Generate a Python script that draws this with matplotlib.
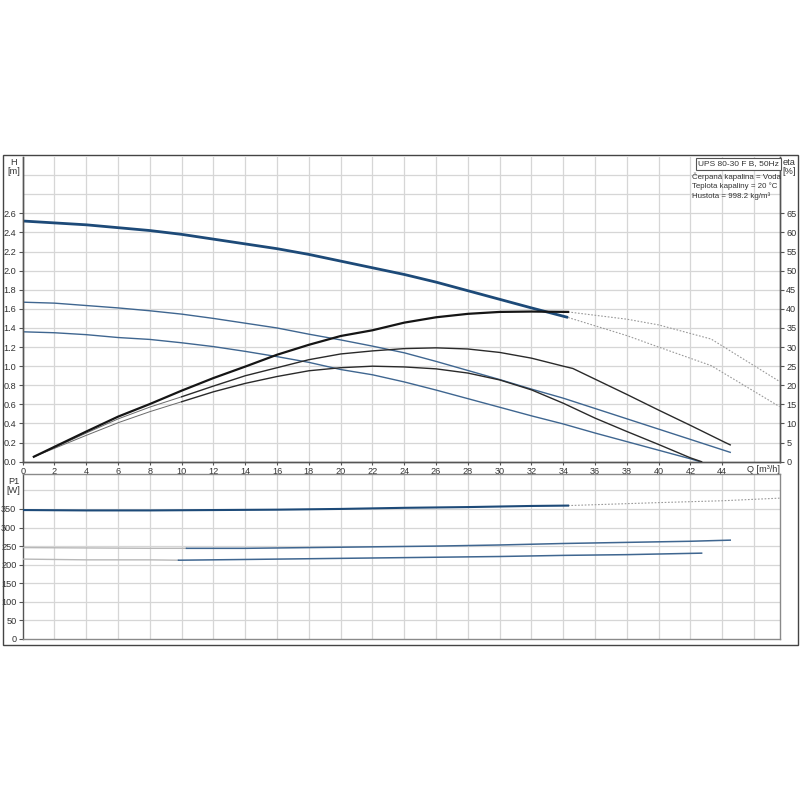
import matplotlib
matplotlib.use("Agg")
import matplotlib.pyplot as plt
from matplotlib.patches import Rectangle

plt.rcParams['font.family'] = ['Liberation Sans', 'DejaVu Sans']

# ---------------- data ----------------
Q_h1 = [0, 2, 4, 6, 8, 10, 12, 14, 16, 18, 20, 22, 24, 26, 28, 30, 32, 34.3]
H1 = [2.52, 2.50, 2.48, 2.45, 2.42, 2.38, 2.33, 2.28, 2.23, 2.17, 2.10, 2.03, 1.96, 1.88, 1.79, 1.70, 1.61, 1.51]
Q_h1_ext = [34.3, 38, 40, 43.3, 47.6]
H1_ext = [1.51, 1.32, 1.20, 1.006, 0.577]

Q_h2 = [0, 2, 4, 6, 8, 10, 12, 14, 16, 18, 20, 22, 24, 26, 28, 30, 32, 34, 36, 38, 40, 42, 44, 44.5]
H2 = [1.67, 1.66, 1.635, 1.61, 1.58, 1.545, 1.50, 1.45, 1.40, 1.335, 1.275, 1.21, 1.14, 1.05, 0.955,
      0.86, 0.76, 0.665, 0.557, 0.449, 0.341, 0.233, 0.125, 0.098]

Q_h3 = [0, 2, 4, 6, 8, 10, 12, 14, 16, 18, 20, 22, 24, 26, 28, 30, 32, 34, 36, 38, 40, 42, 42.6]
H3 = [1.36, 1.35, 1.33, 1.30, 1.28, 1.245, 1.205, 1.155, 1.10, 1.04, 0.965, 0.91, 0.835, 0.75, 0.66,
      0.57, 0.48, 0.395, 0.30, 0.21, 0.12, 0.03, 0.0]

Q_e1 = [0.7, 2, 4, 6, 8, 10, 12, 14, 16, 18, 20, 22, 24, 26, 28, 30, 32, 34.3]
E1 = [1.3, 3.9, 7.9, 11.8, 15.1, 18.6, 21.9, 24.9, 28.0, 30.6, 32.9, 34.4, 36.4, 37.8, 38.7, 39.2, 39.3, 39.2]
Q_e1_ext = [34.3, 38, 40, 43.3, 47.6]
E1_ext = [39.2, 37.3, 35.8, 32.1, 21.0]

Q_e2 = [0.7, 2, 4, 6, 8, 10, 12, 14, 16, 18, 20, 22, 24, 26, 28, 30, 32, 34, 34.6, 36, 38, 40, 42, 44, 44.5]
E2 = [1.3, 3.7, 7.5, 11.2, 14.3, 17.0, 19.8, 22.5, 24.6, 26.7, 28.2, 29.0, 29.6, 29.8, 29.5, 28.6, 27.1,
      25.0, 24.4, 21.6, 17.6, 13.5, 9.5, 5.4, 4.4]

Q_e3 = [0.7, 2, 4, 6, 8, 10, 12, 14, 16, 18, 20, 22, 24, 26, 28, 30, 32, 34, 36, 38, 40, 42, 42.7]
E3 = [1.3, 3.5, 6.9, 10.2, 13.1, 15.7, 18.3, 20.5, 22.3, 23.8, 24.6, 25.0, 24.8, 24.3, 23.2, 21.4, 18.8,
      15.3, 11.4, 7.9, 4.5, 1.0, 0.0]

Q_p1 = [0, 4, 8, 12, 16, 20, 24, 28, 32, 34.3]
P1a = [347, 346, 346, 347, 348, 350, 353, 355, 358, 359]
Q_p1_ext = [34.3, 40, 44, 47.6]
P1a_ext = [359, 367, 372, 379]
Q_p2 = [0, 4, 8, 10.3, 14, 18, 22, 26, 30, 34, 38, 42, 44.5]
P2 = [246, 245, 244, 244, 244, 246, 248, 250, 253, 257, 260, 263, 266]
Q_p3 = [0, 4, 8, 9.8, 14, 18, 22, 26, 30, 34, 38, 42.7]
P3 = [215, 213, 213, 212, 214, 216, 218, 220, 222, 225, 227, 231]

q_ticks = list(range(0, 46, 2))
h_ticks = [0.0, 0.2, 0.4, 0.6, 0.8, 1.0, 1.2, 1.4, 1.6, 1.8, 2.0, 2.2, 2.4, 2.6]
eta_ticks = list(range(0, 70, 5))
p_ticks = list(range(0, 400, 50))

title_box = "UPS 80-30 F B, 50Hz"
info_lines = ["Čerpaná kapalina = Voda", "Teplota kapaliny = 20 °C", "Hustota = 998.2 kg/m³"]

# ---------------- styling ----------------
FS = 6.6
FS_L = 5.7
GRID = '#d6d6d6'
SPINE = '#555555'
TXT = '#333333'
NAVY = '#1d4a78'
BLUE = '#3f6690'
BLK = '#151515'
LIGHT = '#b8b8b8'
DOT = '#9a9a9a'

fig = plt.figure(figsize=(8, 8), dpi=100)
W = H = 800.0

def fx(px):
    return px / W

def fy(py):
    return 1 - py / H

x_left, x_right = 22.7, 780.0
qmax = 47.63
top_y0, top_y1 = 157.0, 461.7
bot_y0, bot_y1 = 474.0, 639.0
hmax = 3.19
pmax = 444.0

# outer frame
fig.patches.append(Rectangle((fx(3), fy(645)), fx(798) - fx(3), fy(155) - fy(645),
                             transform=fig.transFigure, fill=False, edgecolor='#444444', lw=1.0, zorder=0))

ax = fig.add_axes([fx(x_left), fy(top_y1), fx(x_right) - fx(x_left), fy(top_y0) - fy(top_y1)])
ax.set_xlim(0, qmax)
ax.set_ylim(0, hmax)
ax2 = ax.twinx()
ax2.set_ylim(0, hmax * 25)

# grids
for q in range(2, 48, 2):
    ax.axvline(q, color=GRID, lw=0.9, zorder=0)
for h in [0.2 * i for i in range(1, 16)]:
    ax.axhline(h, color=GRID, lw=0.9, zorder=0)

# H curves
ax.plot(Q_h1, H1, color=NAVY, lw=2.0, solid_capstyle='butt', zorder=3)
ax.plot(Q_h1_ext, H1_ext, color=DOT, lw=0.8, ls=(0, (1.5, 1.5)), zorder=2)
ax.plot(Q_h2, H2, color=BLUE, lw=1.0, zorder=3)
ax.plot(Q_h3, H3, color=BLUE, lw=1.0, zorder=3)

# eta curves (on the eta scale)
ax2.plot(Q_e1, E1, color=BLK, lw=1.6, zorder=4)
ax2.plot(Q_e1_ext, E1_ext, color=DOT, lw=0.8, ls=(0, (1.5, 1.5)), zorder=2)
for qq, ee in ((Q_e2, E2), (Q_e3, E3)):
    lo = [i for i, q in enumerate(qq) if q <= 10]
    hi = [i for i, q in enumerate(qq) if q >= 10]
    ax2.plot([qq[i] for i in lo], [ee[i] for i in lo], color='#6a6a6a', lw=0.7, zorder=3)
    ax2.plot([qq[i] for i in hi], [ee[i] for i in hi], color='#2a2a2a', lw=1.0, zorder=3)

# axes styling (top)
ax.set_xticks(q_ticks)
ax.set_xticklabels([str(q) for q in q_ticks], fontsize=FS, color=TXT)
ax.set_yticks(h_ticks)
ax.set_yticklabels([f"{h:.1f}" for h in h_ticks], fontsize=FS, color=TXT)
ax.tick_params(axis='x', length=2, pad=2, color=SPINE)
ax.tick_params(axis='y', length=3, pad=1.5, color=SPINE)
ax2.set_yticks(eta_ticks)
ax2.set_yticklabels([str(e) for e in eta_ticks], fontsize=FS, color=TXT)
ax2.tick_params(axis='y', length=3, pad=1.5, color=SPINE)
for a in (ax, ax2):
    a.spines['top'].set_visible(False)
    for s in a.spines.values():
        s.set_color(SPINE)
        s.set_linewidth(1.0)
ax.text(46.6, -0.03, "Q [m³/h]", transform=ax.transData, ha='center', va='top',
        fontsize=FS, color=TXT, clip_on=False)

fig.text(fx(13.5), fy(158), "H\n[m]", ha='center', va='top', fontsize=FS, color=TXT, linespacing=1.0)
fig.text(fx(789.5), fy(158), "eta\n[%]", ha='center', va='top', fontsize=FS, color=TXT, linespacing=1.0)

# legend box
fig.text(fx(738.5), fy(164), title_box, ha='center', va='center', fontsize=FS_L + 0.3, color=TXT,
         bbox=dict(boxstyle='square,pad=0.3', fc='white', ec='#555555', lw=0.8))
for i, line in enumerate(info_lines):
    fig.text(fx(692), fy(176.5 + 10 * i), line, ha='left', va='center', fontsize=FS_L, color=TXT)

# ---------------- bottom P1 axes ----------------
bx = fig.add_axes([fx(x_left), fy(bot_y1), fx(x_right) - fx(x_left), fy(bot_y0) - fy(bot_y1)])
bx.set_xlim(0, qmax)
bx.set_ylim(0, pmax)
for q in range(2, 48, 2):
    bx.axvline(q, color=GRID, lw=0.9, zorder=0)
for p in range(50, 450, 50):
    bx.axhline(p, color=GRID, lw=0.9, zorder=0)

bx.plot(Q_p1, P1a, color=NAVY, lw=1.5, zorder=3)
bx.plot(Q_p1_ext, P1a_ext, color=DOT, lw=0.8, ls=(0, (1.5, 1.5)), zorder=2)
for qq, pp, qs in ((Q_p2, P2, 10.3), (Q_p3, P3, 9.8)):
    lo = [i for i, q in enumerate(qq) if q <= qs]
    hi = [i for i, q in enumerate(qq) if q >= qs]
    bx.plot([qq[i] for i in lo], [pp[i] for i in lo], color=LIGHT, lw=1.0, zorder=3)
    bx.plot([qq[i] for i in hi], [pp[i] for i in hi], color=BLUE, lw=1.1, zorder=3)

bx.set_xticks(q_ticks)
bx.set_xticklabels([])
bx.tick_params(axis='x', length=0)
bx.set_yticks(p_ticks)
bx.set_yticklabels([str(p) for p in p_ticks], fontsize=FS, color=TXT)
bx.tick_params(axis='y', length=3, pad=1.5, color=SPINE)
for k, s in bx.spines.items():
    s.set_linewidth(1.0)
    s.set_color('#8a8a8a' if k in ('top', 'right', 'bottom') else SPINE)
fig.text(fx(13.5), fy(477), "P1\n[W]", ha='center', va='top', fontsize=FS, color=TXT, linespacing=1.0)

fig.savefig("out.png", dpi=100)
